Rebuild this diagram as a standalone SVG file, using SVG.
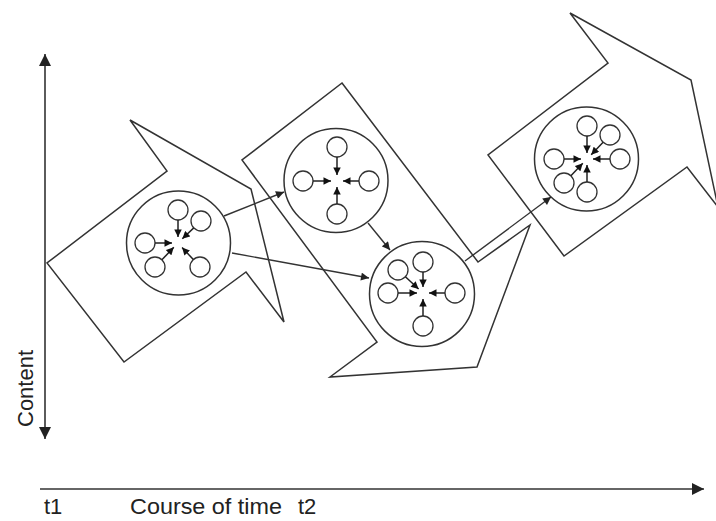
<svg xmlns="http://www.w3.org/2000/svg" width="716" height="521" viewBox="0 0 716 521">
<style>
.shape{fill:none;stroke:#333;stroke-width:1.5;stroke-linejoin:miter}
.big{fill:#fff;stroke:#333;stroke-width:1.5}
.small{fill:#fff;stroke:#333;stroke-width:1.3}
.in{stroke:#222;stroke-width:1.5;fill:none;marker-end:url(#sa)}
.con{stroke:#333;stroke-width:1.4;fill:none;marker-end:url(#ah)}
.axis{stroke:#333;stroke-width:1.6;fill:none}
.lbl{font-family:"Liberation Sans",Arial,sans-serif;font-size:22px;fill:#222}
</style>
<defs>
<marker id="ah" viewBox="0 0 10 10" refX="10" refY="5" markerWidth="9" markerHeight="8" markerUnits="userSpaceOnUse" orient="auto"><path d="M0,0 L10,5 L0,10 z" fill="#222"/></marker>
<marker id="sa" viewBox="0 0 10 10" refX="10" refY="5" markerWidth="8" markerHeight="7.5" markerUnits="userSpaceOnUse" orient="auto"><path d="M0,0 L10,5 L0,10 z" fill="#111"/></marker>
<marker id="ax" viewBox="0 0 10 10" refX="10" refY="5" markerWidth="13" markerHeight="12" markerUnits="userSpaceOnUse" orient="auto-start-reverse"><path d="M0,0 L10,5 L0,10 z" fill="#222"/></marker>
</defs>

<g id="axes">
<line class="axis" x1="45" y1="54" x2="45" y2="439" marker-start="url(#ax)" marker-end="url(#ax)"/>
<line class="axis" x1="40" y1="489" x2="704" y2="489" marker-end="url(#ax)"/>
<text class="lbl" transform="translate(33,427) rotate(-90)">Content</text>
<text class="lbl" x="44" y="514">t1</text>
<text class="lbl" x="130" y="514" textLength="152" lengthAdjust="spacingAndGlyphs">Course of time</text>
<text class="lbl" x="298" y="514">t2</text>
</g>

<g id="arrow1"><polygon class="shape" points="130,120 251,189 284,322 246,272 124,362 47,263 167,171"/></g>
<g id="arrow2"><polygon class="shape" points="342,83 478,262 530,225 477,367 330,377 377,342 242,160"/></g>
<g id="arrow3"><polygon class="shape" points="570,13 691,80 718,207 687,167 564,256 488,155 608,63"/></g>

<g id="cluster1">
<circle class="big" cx="178.5" cy="243" r="52"/>
<circle class="small" cx="178" cy="210" r="10"/>
<circle class="small" cx="201" cy="221" r="10"/>
<circle class="small" cx="145" cy="243" r="10"/>
<circle class="small" cx="155" cy="267" r="10"/>
<circle class="small" cx="200" cy="267" r="10"/>
<line class="in" x1="178" y1="220" x2="178" y2="237"/>
<line class="in" x1="193.8" y1="227.9" x2="182.3" y2="238.8"/>
<line class="in" x1="155" y1="243" x2="172" y2="243"/>
<line class="in" x1="161.9" y1="259.8" x2="173.8" y2="247.3"/>
<line class="in" x1="193.3" y1="259.6" x2="182.1" y2="247.4"/>
</g>

<g id="cluster2">
<circle class="big" cx="336" cy="180.5" r="52"/>
<circle class="small" cx="337" cy="147" r="10"/>
<circle class="small" cx="303" cy="181" r="10"/>
<circle class="small" cx="369" cy="181" r="10"/>
<circle class="small" cx="337" cy="214" r="10"/>
<line class="in" x1="337" y1="157" x2="337" y2="175"/>
<line class="in" x1="313" y1="181" x2="331" y2="181"/>
<line class="in" x1="359" y1="181" x2="343" y2="181"/>
<line class="in" x1="337" y1="204" x2="337" y2="187"/>
</g>

<g id="cluster3">
<circle class="big" cx="422" cy="294" r="52.5"/>
<circle class="small" cx="423" cy="262" r="10"/>
<circle class="small" cx="398" cy="270" r="10"/>
<circle class="small" cx="388" cy="293" r="10"/>
<circle class="small" cx="455" cy="293" r="10"/>
<circle class="small" cx="423" cy="326" r="10"/>
<line class="in" x1="423" y1="272" x2="423" y2="287"/>
<line class="in" x1="405.4" y1="276.8" x2="418.6" y2="289"/>
<line class="in" x1="398" y1="293" x2="417" y2="293"/>
<line class="in" x1="445" y1="293" x2="429" y2="293"/>
<line class="in" x1="423" y1="316" x2="423" y2="299"/>
</g>

<g id="cluster4">
<circle class="big" cx="586.5" cy="159" r="52"/>
<circle class="small" cx="587" cy="126" r="10"/>
<circle class="small" cx="610" cy="135" r="10"/>
<circle class="small" cx="620" cy="159" r="10"/>
<circle class="small" cx="554" cy="159" r="10"/>
<circle class="small" cx="564" cy="183" r="10"/>
<circle class="small" cx="587" cy="192" r="10"/>
<line class="in" x1="587" y1="136" x2="587" y2="153"/>
<line class="in" x1="603.1" y1="142.2" x2="591.2" y2="154.7"/>
<line class="in" x1="610" y1="159" x2="593" y2="159"/>
<line class="in" x1="564" y1="159" x2="581" y2="159"/>
<line class="in" x1="570.9" y1="175.8" x2="582.8" y2="163.3"/>
<line class="in" x1="587" y1="182" x2="587" y2="165"/>
</g>

<g id="connectors">
<line class="con" x1="224" y1="216" x2="284" y2="192"/>
<line class="con" x1="232" y1="253" x2="369" y2="278"/>
<line class="con" x1="368" y1="223" x2="390" y2="250"/>
<line class="con" x1="465" y1="261" x2="551" y2="197"/>
</g>
</svg>
